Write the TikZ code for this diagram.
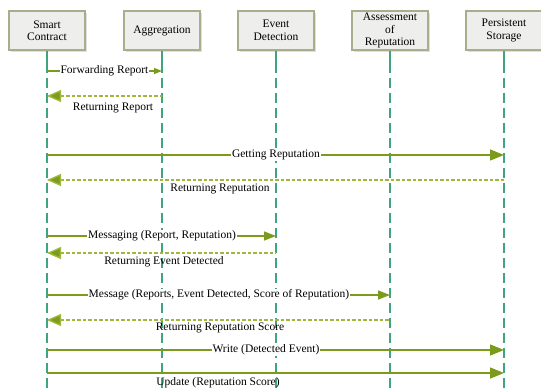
\documentclass[tikz,border=0pt]{standalone}
\usepackage{fontspec}
\setmainfont{Liberation Serif}
\usetikzlibrary{arrows.meta,shadows}
\definecolor{life}{HTML}{3FA57C}
\definecolor{olv}{HTML}{7C9A1C}
\definecolor{olvl}{HTML}{9DB83A}
\definecolor{bxd}{HTML}{A9AD8C}
\definecolor{bxf}{HTML}{EEEEEC}
\tikzset{
  actor/.style={draw=bxd, line width=1.2pt, fill=bxf, minimum width=76pt, minimum height=39pt,
    inner sep=1pt, align=center, font=\fontsize{11.5}{12.5}\selectfont,
    drop shadow={shadow xshift=1.5pt, shadow yshift=-1.5pt, fill=black!25}},
  lifeline/.style={draw=life, line width=1.6pt, dash pattern=on 10pt off 5pt},
  lifestart/.style={draw=life, line width=1.6pt},
  call/.style={draw=olv, line width=1.4pt, -{Triangle[length=14pt,width=11pt]}},
  ret/.style={draw=olvl, line width=1.4pt, dash pattern=on 3.5pt off 2pt, {Triangle[length=14pt,width=12pt,fill=olv]}-},
  lbl/.style={font=\fontsize{11.5}{12.5}\selectfont, inner sep=1pt},
  onlbl/.style={lbl, fill=white},
}
\begin{document}
\begin{tikzpicture}[x=1pt,y=-1pt]
\useasboundingbox (0,0) rectangle (541,388);
% actors
\node[actor] (sc) at (47,30.5) {Smart\\Contract};
\node[actor] (ag) at (162,30.5) {Aggregation};
\node[actor] (ed) at (276,30.5) {Event\\Detection};
\node[actor] (ar) at (390,30.5) {Assessment\\of\\Reputation};
\node[actor] (ps) at (504,30.5) {Persistent\\Storage};
% lifelines
\foreach \a in {sc,ag,ed,ar,ps}{
  \coordinate (\a-s) at ([yshift=-12pt]\a.south);
  \coordinate (\a-e) at (\a.south |- 0,388);
  \draw[lifestart] (\a.south) -- (\a-s);
  \draw[lifeline] (\a-s) -- (\a-e);
}
% message anchor coordinates
\foreach \a in {sc,ag,ed,ar,ps}{
  \foreach \n/\y in {1/71,2/96,3/155,4/180,5/236,6/253,7/295,8/320,9/350,10/373}{
    \coordinate (\a\n) at (\a.south |- 0,\y);
  }
}
% messages
\draw[draw=olv, line width=1.4pt, -{Triangle[length=8pt,width=6pt]}] (sc1) -- (ag1)
  node[onlbl, pos=0.5] (m1) {Forwarding Report};
\draw[ret] (sc2) -- (ag2);
\node[lbl] (m2) at (113,108) {Returning Report};
\draw[call] (sc3) -- (ps3);
\node[onlbl] (m3) at (276,155) {Getting Reputation};
\draw[ret] (sc4) -- (ps4);
\node[lbl] (m4) at (220,189) {Returning Reputation};
\draw[draw=olv, line width=1.4pt, -{Triangle[length=12pt,width=9pt]}] (sc5) -- (ed5);
\node[onlbl] (m5) at (162,236) {Messaging (Report, Reputation)};
\draw[ret] (sc6) -- (ed6);
\node[lbl] (m6) at (164,262) {Returning Event Detected};
\draw[draw=olv, line width=1.4pt, -{Triangle[length=12pt,width=9pt]}] (sc7) -- (ar7);
\node[onlbl] (m7) at (219,295) {Message (Reports, Event Detected, Score of Reputation)};
\draw[ret] (sc8) -- (ar8);
\node[lbl] (m8) at (220,328) {Returning Reputation Score};
\draw[call] (sc9) -- (ps9);
\node[onlbl] (m9) at (266,350) {Write (Detected Event)};
\draw[call] (sc10) -- (ps10);
\node[lbl] (m10) at (218,383) {Update (Reputation Score)};
\end{tikzpicture}
\end{document}
